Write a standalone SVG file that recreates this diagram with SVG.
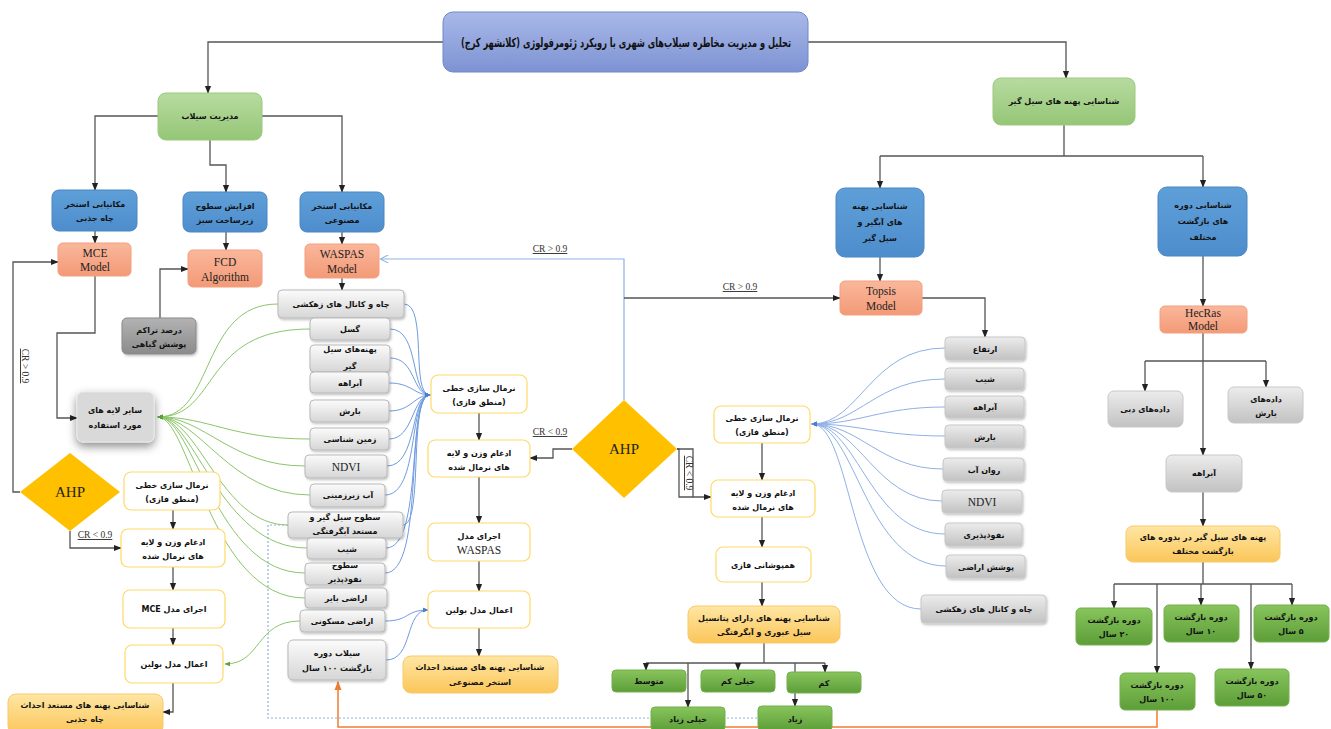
<svg xmlns="http://www.w3.org/2000/svg" width="1331" height="729" viewBox="0 0 1331 729">
<defs>
<linearGradient id="gTitle" x1="0" y1="0" x2="0" y2="1"><stop offset="0" stop-color="#a9b8e9"/><stop offset="1" stop-color="#7d93d2"/></linearGradient>
<linearGradient id="gGreen" x1="0" y1="0" x2="0" y2="1"><stop offset="0" stop-color="#b7dba0"/><stop offset="1" stop-color="#95c676"/></linearGradient>
<linearGradient id="gBlue" x1="0" y1="0" x2="0" y2="1"><stop offset="0" stop-color="#5f9fd8"/><stop offset="1" stop-color="#4d8dcd"/></linearGradient>
<linearGradient id="gOrange" x1="0" y1="0" x2="0" y2="1"><stop offset="0" stop-color="#fab79b"/><stop offset="1" stop-color="#f39a77"/></linearGradient>
<linearGradient id="gGray" x1="0" y1="0" x2="0" y2="1"><stop offset="0" stop-color="#fbfbfb"/><stop offset="1" stop-color="#d6d6d6"/></linearGradient>
<linearGradient id="gGrayR" x1="0" y1="0" x2="0" y2="1"><stop offset="0" stop-color="#ececec"/><stop offset="1" stop-color="#c2c2c2"/></linearGradient>
<linearGradient id="gDark" x1="0" y1="0" x2="0" y2="1"><stop offset="0" stop-color="#b3b3b3"/><stop offset="1" stop-color="#8b8b8b"/></linearGradient>
<linearGradient id="gRes" x1="0" y1="0" x2="0" y2="1"><stop offset="0" stop-color="#ffe6a3"/><stop offset="1" stop-color="#fbc65a"/></linearGradient>
<linearGradient id="gLeaf" x1="0" y1="0" x2="0" y2="1"><stop offset="0" stop-color="#88c45c"/><stop offset="1" stop-color="#5d9e39"/></linearGradient>
<filter id="sh" x="-20%" y="-20%" width="140%" height="150%"><feDropShadow dx="1" dy="1.5" stdDeviation="1" flood-color="#000" flood-opacity="0.25"/></filter>
<filter id="shBig" x="-40%" y="-40%" width="180%" height="190%"><feDropShadow dx="0" dy="4" stdDeviation="5" flood-color="#000" flood-opacity="0.45"/></filter>
<marker id="ar" viewBox="0 0 10 10" refX="9" refY="5" markerWidth="6" markerHeight="6" orient="auto-start-reverse"><path d="M0,1 L10,5 L0,9 z" fill="#222"/></marker>
<marker id="arB" viewBox="0 0 10 10" refX="9" refY="5" markerWidth="6" markerHeight="6" orient="auto"><path d="M0,1 L10,5 L0,9 z" fill="#4a7fd0"/></marker>
<marker id="arLB" viewBox="0 0 10 10" refX="9" refY="5" markerWidth="7" markerHeight="7" orient="auto"><path d="M0,0 L10,5 L0,10" fill="none" stroke="#8db3e2" stroke-width="1.2"/></marker>
<marker id="arG" viewBox="0 0 10 10" refX="9" refY="5" markerWidth="6" markerHeight="6" orient="auto"><path d="M0,1 L10,5 L0,9 z" fill="#5aa23a"/></marker>
<marker id="arO" viewBox="0 0 10 10" refX="9" refY="5" markerWidth="6" markerHeight="6" orient="auto"><path d="M0,1 L10,5 L0,9 z" fill="#ed7d31"/></marker>
</defs>
<style>
.fa{font-family:"DejaVu Sans",sans-serif;font-size:8px;font-weight:bold;fill:#111;text-anchor:middle;direction:rtl}
.fb{font-family:"DejaVu Sans",sans-serif;font-size:8.5px;font-weight:bold;fill:#111;text-anchor:middle;direction:rtl}
.en{font-family:"Liberation Serif",serif;font-size:11.5px;fill:#222;text-anchor:middle}
.ahp{font-family:"Liberation Serif",serif;font-size:15px;fill:#222;text-anchor:middle}
.cr{font-family:"Liberation Serif",serif;font-size:9.5px;fill:#333;text-anchor:middle;text-decoration:underline}
.title{fill:url(#gTitle);stroke:#7188c8;stroke-width:1}
.green{fill:url(#gGreen);stroke:#9cc97f;stroke-width:1}
.blue{fill:url(#gBlue);stroke:#4a86c3;stroke-width:1}
.orange{fill:url(#gOrange);stroke:#f2a07f;stroke-width:1}
.gray{fill:url(#gGray);stroke:#b9b9b9;stroke-width:1}
.grayR{fill:url(#gGrayR);stroke:#c8c8c8;stroke-width:1}
.dark{fill:url(#gDark);stroke:#8a8a8a;stroke-width:1}
.yel{fill:#fff;stroke:#ffd966;stroke-width:1.2}
.res{fill:url(#gRes);stroke:#f7c96a;stroke-width:1}
.leaf{fill:url(#gLeaf);stroke:#74b04d;stroke-width:1}
.dia{fill:#ffc000;stroke:none}
.ln{fill:none;stroke:#555;stroke-width:1.3}
.lnA{fill:none;stroke:#555;stroke-width:1.3;marker-end:url(#ar)}
.bc{fill:none;stroke:#6f9be0;stroke-width:1;marker-end:url(#arB)}
.rc{fill:none;stroke:#8fb0e6;stroke-width:1;marker-end:url(#arB)}
.gc{fill:none;stroke:#8cc56a;stroke-width:1;marker-end:url(#arG)}
</style>
<rect width="1331" height="729" fill="#fff"/>

<g id="connectors">
<path class="lnA" d="M443,42 H208 V93"/>
<path class="lnA" d="M808,42 H1066 V78"/>
<path class="lnA" d="M158,116 H95 V190"/>
<path class="lnA" d="M210,140 V165 H226 V192"/>
<path class="lnA" d="M262,116 H342 V192"/>
<path class="lnA" d="M95,231 V243"/>
<path class="lnA" d="M226,232 V250"/>
<path class="lnA" d="M342,232 V244"/>
<path class="lnA" d="M95,276 V333 H57 V418 H77"/>
<path class="lnA" d="M160,318 V269 H188"/>
<path class="lnA" d="M20,492 H13 V262 H58"/>
<text class="cr" x="22" y="366" transform="rotate(90 22 366)">CR &gt; 0.9</text>
<path class="lnA" d="M70,531 V548 H121"/>
<text class="cr" x="95" y="538">CR &lt; 0.9</text>
<path class="lnA" d="M173,510 V529"/>
<path class="lnA" d="M173,567 V590"/>
<path class="lnA" d="M173,628 V645"/>
<path class="lnA" d="M173,683 V712 H163"/>
<path class="lnA" d="M342,278 V290"/>
<path class="lnA" d="M479,413 V440"/>
<path class="lnA" d="M479,477 V523"/>
<path class="lnA" d="M479,561 V591"/>
<path class="lnA" d="M479,628 V656"/>
<path class="lnA" d="M572,449 H553 V458 H530"/>
<text class="cr" x="550" y="435">CR &lt; 0.9</text>
<path d="M624,400 V259 H381" fill="none" stroke="#8db3e2" stroke-width="1.2" marker-end="url(#arLB)"/>
<text class="cr" x="550" y="252">CR &gt; 0.9</text>
<path class="lnA" d="M624,298 H840"/>
<text class="cr" x="740" y="290">CR &gt; 0.9</text>
<path class="lnA" d="M677,449 H693 V497 H711"/>
<path class="ln" d="M677,449 H679 V497 H693" stroke="#999"/>
<text class="cr" x="686" y="473" transform="rotate(90 686 473)">CR &lt; 0.9</text>
<path class="lnA" d="M762,443 V480"/>
<path class="lnA" d="M762,517 V547"/>
<path class="lnA" d="M762,582 V606"/>
<path class="ln" d="M764,643 V663 M646,663 H825"/>
<path class="lnA" d="M646,663 V670"/>
<path class="lnA" d="M738,663 V670"/>
<path class="lnA" d="M825,663 V672"/>
<path class="lnA" d="M688,663 V707"/>
<path class="lnA" d="M795,663 V706"/>
<path class="lnA" d="M922,298 H985 V337"/>
<path class="ln" d="M1064,125 V156 M880,156 H1203"/>
<path class="lnA" d="M880,156 V188"/>
<path class="lnA" d="M1203,156 V187"/>
<path class="lnA" d="M880,257 V281"/>
<path class="lnA" d="M1203,256 V306"/>
<path class="lnA" d="M1203,333 V455"/>
<path class="ln" d="M1145,361 H1266"/>
<path class="lnA" d="M1145,361 V391"/>
<path class="lnA" d="M1266,361 V387"/>
<path class="lnA" d="M1203,492 V526"/>
<path class="ln" d="M1203,562 V584 M1114,584 H1292"/>
<path class="lnA" d="M1114,584 V608"/>
<path class="lnA" d="M1201,584 V605"/>
<path class="lnA" d="M1292,584 V605"/>
<path class="lnA" d="M1157,584 V673"/>
<path class="lnA" d="M1251,584 V669"/>
<path d="M1157,710 V727 H338 V682" fill="none" stroke="#ed7d31" stroke-width="1.5" marker-end="url(#arO)"/>
<path d="M288,525 H268 V718 H758" fill="none" stroke="#8db3e2" stroke-width="1.2" stroke-dasharray="2,2"/>
<path class="bc" d="M404,304 C428,304 410,395 430,395"/>
<path class="bc" d="M390,329 C420,329 410,395 430,395"/>
<path class="bc" d="M390,358 C416,358 412,395 430,395"/>
<path class="bc" d="M389,383 C412,383 414,395 430,395"/>
<path class="bc" d="M389,411 C412,411 414,395 430,395"/>
<path class="bc" d="M389,439 C414,439 412,395 430,395"/>
<path class="bc" d="M387,466 C418,466 410,395 430,395"/>
<path class="bc" d="M385,495 C420,495 408,395 430,395"/>
<path class="bc" d="M403,525 C424,525 408,395 430,395"/>
<path class="bc" d="M386,548 C424,548 406,395 430,395"/>
<path class="bc" d="M385,573 C426,573 404,395 430,395"/>
<path class="bc" d="M385,621 C410,621 405,610 428,610"/>
<path class="bc" d="M386,660 C414,660 404,610 428,610"/>
<path class="gc" d="M278,304 C200,304 215,417 158,417"/>
<path class="gc" d="M310,329 C200,329 220,417 158,417"/>
<path class="gc" d="M310,439 C230,439 210,417 158,417"/>
<path class="gc" d="M305,466 C230,466 205,417 158,417"/>
<path class="gc" d="M310,495 C230,495 200,417 158,417"/>
<path class="gc" d="M288,525 C220,525 200,417 158,417"/>
<path class="gc" d="M307,548 C220,548 195,417 158,417"/>
<path class="gc" d="M305,573 C215,573 195,417 158,417"/>
<path class="gc" d="M305,598 C210,598 190,417 158,417"/>
<path class="gc" d="M300,621 C255,621 262,664 225,664"/>
<path class="rc" d="M945,348 C870,348 860,424 812,424"/>
<path class="rc" d="M945,379 C875,379 860,424 812,424"/>
<path class="rc" d="M945,407 C880,407 860,424 812,424"/>
<path class="rc" d="M945,436 C880,436 860,424 812,424"/>
<path class="rc" d="M943,469 C880,469 860,424 812,424"/>
<path class="rc" d="M942,501 C875,501 860,424 812,424"/>
<path class="rc" d="M945,534 C870,534 858,424 812,424"/>
<path class="rc" d="M946,566 C865,566 856,424 812,424"/>
<path class="rc" d="M921,609 C850,609 852,424 812,424"/>
</g>

<g id="title"><rect class="title" x="443" y="12" width="365" height="60" rx="10"/><text class="fb" x="626" y="47" style="font-size:12.5px" textLength="330" lengthAdjust="spacingAndGlyphs">تحلیل و مدیریت مخاطره سیلاب‌های شهری با رویکرد ژئومرفولوژی (کلانشهر کرج)</text></g>

<g id="flood-management"><rect class="green" x="158" y="93" width="104" height="47" rx="8"/><text class="fa" x="210" y="119">مدیریت سیلاب</text></g>
<g id="flood-zones"><rect class="green" x="993" y="78" width="142" height="47" rx="8"/><text class="fa" x="1064" y="104">شناسایی پهنه های سیل گیر</text></g>

<g id="b-well"><rect class="blue" x="52" y="190" width="85" height="41" rx="7"/><text class="fa" x="95" y="207">مکانیابی استخر</text><text class="fa" x="95" y="221">چاه جذبی</text></g>
<g id="b-green"><rect class="blue" x="183" y="192" width="84" height="40" rx="7"/><text class="fa" x="225" y="209">افزایش سطوح</text><text class="fa" x="225" y="223">زیرساخت سبز</text></g>
<g id="b-pool"><rect class="blue" x="300" y="192" width="84" height="40" rx="7"/><text class="fa" x="342" y="209">مکانیابی استخر</text><text class="fa" x="342" y="223">مصنوعی</text></g>
<g id="b-zones"><rect class="blue" x="836" y="188" width="88" height="69" rx="9"/><text class="fa" x="880" y="209">شناسایی پهنه</text><text class="fa" x="880" y="225">های آبگیر و</text><text class="fa" x="880" y="241">سیل گیر</text></g>
<g id="b-periods"><rect class="blue" x="1158" y="187" width="89" height="69" rx="9"/><text class="fa" x="1203" y="208">شناسایی دوره</text><text class="fa" x="1203" y="224">های بازگشت</text><text class="fa" x="1203" y="240">مختلف</text></g>

<g id="m-mce"><rect class="orange" x="58" y="243" width="73" height="33" rx="5"/><text class="en" x="95" y="257">MCE</text><text class="en" x="95" y="271">Model</text></g>
<g id="m-fcd"><rect class="orange" x="188" y="250" width="74" height="37" rx="5"/><text class="en" x="225" y="266">FCD</text><text class="en" x="225" y="281">Algorithm</text></g>
<g id="m-waspas"><rect class="orange" x="305" y="244" width="74" height="34" rx="5"/><text class="en" x="342" y="258">WASPAS</text><text class="en" x="342" y="273">Model</text></g>
<g id="m-topsis"><rect class="orange" x="840" y="281" width="82" height="34" rx="5"/><text class="en" x="881" y="295">Topsis</text><text class="en" x="881" y="310">Model</text></g>
<g id="m-hecras"><rect class="orange" x="1160" y="306" width="87" height="27" rx="5"/><text class="en" x="1203" y="317">HecRas</text><text class="en" x="1203" y="330">Model</text></g>

<g id="veg"><rect class="dark" x="122" y="318" width="74" height="36" rx="5" filter="url(#sh)"/><text class="fa" x="159" y="333">درصد تراکم</text><text class="fa" x="159" y="347">پوشش گیاهی</text></g>
<g id="other-layers"><rect x="77" y="392" width="77" height="50" rx="6" fill="#d9d9d9" stroke="#e8e8e8" filter="url(#shBig)"/><text class="fa" x="115" y="413">سایر لایه های</text><text class="fa" x="115" y="428">مورد استفاده</text></g>

<g id="ahp-left"><polygon class="dia" points="20,492 70,453 120,492 70,531"/><text class="ahp" x="70" y="497">AHP</text></g>
<g id="ahp-mid"><polygon class="dia" points="572,449 624,400 677,449 624,498"/><text class="ahp" x="624" y="454">AHP</text></g>

<g id="l-norm"><rect class="yel" x="124" y="472" width="96" height="38" rx="7"/><text class="fa" x="172" y="488">نرمال سازی خطی</text><text class="fa" x="172" y="502">(منطق فازی)</text></g>
<g id="l-merge"><rect class="yel" x="121" y="529" width="104" height="38" rx="7"/><text class="fa" x="173" y="545">ادغام وزن و لایه</text><text class="fa" x="173" y="559">های نرمال شده</text></g>
<g id="l-run"><rect class="yel" x="123" y="590" width="102" height="38" rx="7"/><text class="fa" x="174" y="612">اجرای مدل MCE</text></g>
<g id="l-bool"><rect class="yel" x="125" y="645" width="98" height="38" rx="7"/><text class="fa" x="174" y="667">اعمال مدل بولین</text></g>
<g id="l-res"><rect class="res" x="8" y="694" width="155" height="40" rx="8"/><text class="fa" x="85" y="708">شناسایی پهنه های مستعد احداث</text><text class="fa" x="85" y="722">چاه جذبی</text></g>

<g id="c1"><rect class="gray" x="278" y="290" width="126" height="28" rx="4" filter="url(#sh)"/><text class="fa" x="341" y="307">چاه و کانال های زهکشی</text></g>
<g id="c2"><rect class="gray" x="310" y="318" width="80" height="22" rx="4" filter="url(#sh)"/><text class="fa" x="350" y="332">گسل</text></g>
<g id="c3"><rect class="gray" x="310" y="345" width="80" height="27" rx="4" filter="url(#sh)"/><text class="fa" x="350" y="352">پهنه‌های سیل</text><text class="fa" x="350" y="369">گیر</text></g>
<g id="c4"><rect class="gray" x="310" y="372" width="79" height="21" rx="4" filter="url(#sh)"/><text class="fa" x="350" y="386">آبراهه</text></g>
<g id="c5"><rect class="gray" x="310" y="400" width="79" height="22" rx="4" filter="url(#sh)"/><text class="fa" x="350" y="414">بارش</text></g>
<g id="c6"><rect class="gray" x="310" y="428" width="79" height="22" rx="4" filter="url(#sh)"/><text class="fa" x="350" y="442">زمین شناسی</text></g>
<g id="c7"><rect class="gray" x="305" y="455" width="82" height="23" rx="4" filter="url(#sh)"/><text class="en" x="346" y="471">NDVI</text></g>
<g id="c8"><rect class="gray" x="310" y="484" width="75" height="23" rx="4" filter="url(#sh)"/><text class="fa" x="348" y="498">آب زیرزمینی</text></g>
<g id="c9"><rect class="gray" x="288" y="512" width="115" height="26" rx="4" filter="url(#sh)"/><text class="fa" x="345" y="520">سطوح سیل گیر و</text><text class="fa" x="345" y="534">مستعد آبگرفتگی</text></g>
<g id="c10"><rect class="gray" x="307" y="538" width="79" height="21" rx="4" filter="url(#sh)"/><text class="fa" x="347" y="552">شیب</text></g>
<g id="c11"><rect class="gray" x="305" y="563" width="80" height="22" rx="4" filter="url(#sh)"/><text class="fa" x="345" y="568">سطوح</text><text class="fa" x="345" y="582">نفوذپذیر</text></g>
<g id="c12"><rect class="gray" x="305" y="588" width="82" height="20" rx="4" filter="url(#sh)"/><text class="fa" x="346" y="601">اراضی بایر</text></g>
<g id="c13"><rect class="gray" x="300" y="610" width="85" height="22" rx="4" filter="url(#sh)"/><text class="fa" x="342" y="624">اراضی مسکونی</text></g>
<g id="c14"><rect class="gray" x="288" y="640" width="98" height="40" rx="5" filter="url(#sh)"/><text class="fa" x="337" y="656">سیلاب دوره</text><text class="fa" x="337" y="671">بازگشت ۱۰۰ سال</text></g>

<g id="m-norm"><rect class="yel" x="431" y="375" width="96" height="38" rx="7"/><text class="fa" x="479" y="391">نرمال سازی خطی</text><text class="fa" x="479" y="405">(منطق فازی)</text></g>
<g id="m-merge"><rect class="yel" x="428" y="440" width="102" height="37" rx="7"/><text class="fa" x="479" y="456">ادغام وزن و لایه</text><text class="fa" x="479" y="470">های نرمال شده</text></g>
<g id="m-run"><rect class="yel" x="428" y="523" width="102" height="38" rx="7"/><text class="fa" x="479" y="539">اجرای مدل</text><text class="en" x="479" y="554">WASPAS</text></g>
<g id="m-bool"><rect class="yel" x="428" y="591" width="102" height="37" rx="7"/><text class="fa" x="479" y="613">اعمال مدل بولین</text></g>
<g id="m-res"><rect class="res" x="403" y="656" width="155" height="37" rx="8"/><text class="fa" x="480" y="670">شناسایی پهنه های مستعد احداث</text><text class="fa" x="480" y="685">استخر مصنوعی</text></g>

<g id="r-norm"><rect class="yel" x="714" y="406" width="96" height="37" rx="7"/><text class="fa" x="762" y="421">نرمال سازی خطی</text><text class="fa" x="762" y="435">(منطق فازی)</text></g>
<g id="r-merge"><rect class="yel" x="711" y="480" width="104" height="37" rx="7"/><text class="fa" x="763" y="496">ادغام وزن و لایه</text><text class="fa" x="763" y="510">های نرمال شده</text></g>
<g id="r-overlay"><rect class="yel" x="716" y="547" width="95" height="35" rx="7"/><text class="fa" x="763" y="568">همپوشانی فازی</text></g>
<g id="r-res"><rect class="res" x="688" y="606" width="152" height="37" rx="8"/><text class="fa" x="764" y="621">شناسایی پهنه های دارای پتانسیل</text><text class="fa" x="764" y="635">سیل عبوری و آبگرفتگی</text></g>

<g id="k-mid"><rect class="leaf" x="612" y="670" width="74" height="22" rx="4"/><text class="fa" x="649" y="684">متوسط</text></g>
<g id="k-vlow"><rect class="leaf" x="701" y="670" width="74" height="22" rx="4"/><text class="fa" x="738" y="684">خیلی کم</text></g>
<g id="k-low"><rect class="leaf" x="787" y="672" width="74" height="21" rx="4"/><text class="fa" x="824" y="686">کم</text></g>
<g id="k-vhigh"><rect class="leaf" x="651" y="707" width="74" height="24" rx="4"/><text class="fa" x="688" y="722">خیلی زیاد</text></g>
<g id="k-high"><rect class="leaf" x="758" y="706" width="74" height="25" rx="4"/><text class="fa" x="795" y="722">زیاد</text></g>

<g id="t1"><rect class="grayR" x="945" y="337" width="80" height="23" rx="4" filter="url(#sh)"/><text class="fa" x="985" y="352">ارتفاع</text></g>
<g id="t2"><rect class="grayR" x="945" y="368" width="79" height="22" rx="4" filter="url(#sh)"/><text class="fa" x="985" y="382">شیب</text></g>
<g id="t3"><rect class="grayR" x="945" y="396" width="79" height="22" rx="4" filter="url(#sh)"/><text class="fa" x="985" y="410">آبراهه</text></g>
<g id="t4"><rect class="grayR" x="945" y="425" width="79" height="23" rx="4" filter="url(#sh)"/><text class="fa" x="985" y="440">بارش</text></g>
<g id="t5"><rect class="grayR" x="943" y="458" width="81" height="23" rx="4" filter="url(#sh)"/><text class="fa" x="984" y="473">روان آب</text></g>
<g id="t6"><rect class="grayR" x="942" y="490" width="80" height="23" rx="4" filter="url(#sh)"/><text class="en" x="982" y="506">NDVI</text></g>
<g id="t7"><rect class="grayR" x="945" y="523" width="77" height="23" rx="4" filter="url(#sh)"/><text class="fa" x="984" y="538">نفوذپذیری</text></g>
<g id="t8"><rect class="grayR" x="946" y="555" width="79" height="23" rx="4" filter="url(#sh)"/><text class="fa" x="986" y="570">پوشش اراضی</text></g>
<g id="t9"><rect class="grayR" x="921" y="595" width="125" height="28" rx="4" filter="url(#sh)"/><text class="fa" x="984" y="612">چاه و کانال های زهکشی</text></g>

<g id="d-flow"><rect class="grayR" x="1108" y="391" width="75" height="36" rx="6"/><text class="fa" x="1145" y="412">داده‌های دبی</text></g>
<g id="d-rain"><rect class="grayR" x="1228" y="387" width="75" height="36" rx="6"/><text class="fa" x="1266" y="402">داده‌های</text><text class="fa" x="1266" y="416">بارش</text></g>
<g id="d-stream"><rect class="grayR" x="1166" y="455" width="76" height="37" rx="6"/><text class="fa" x="1204" y="476">آبراهه</text></g>
<g id="d-res"><rect class="res" x="1126" y="526" width="154" height="36" rx="7"/><text class="fa" x="1203" y="540">پهنه های سیل گیر در بدوره های</text><text class="fa" x="1203" y="554">بازگشت مختلف</text></g>

<g id="p20"><rect class="leaf" x="1076" y="608" width="76" height="37" rx="5"/><text class="fa" x="1114" y="623">دوره بازگشت</text><text class="fa" x="1114" y="637">۲۰ سال</text></g>
<g id="p10"><rect class="leaf" x="1164" y="605" width="75" height="37" rx="5"/><text class="fa" x="1201" y="620">دوره بازگشت</text><text class="fa" x="1201" y="634">۱۰ سال</text></g>
<g id="p5"><rect class="leaf" x="1254" y="605" width="75" height="37" rx="5"/><text class="fa" x="1291" y="620">دوره بازگشت</text><text class="fa" x="1291" y="634">۵ سال</text></g>
<g id="p100"><rect class="leaf" x="1120" y="673" width="75" height="37" rx="5"/><text class="fa" x="1157" y="688">دوره بازگشت</text><text class="fa" x="1157" y="702">۱۰۰ سال</text></g>
<g id="p50"><rect class="leaf" x="1215" y="669" width="74" height="37" rx="5"/><text class="fa" x="1252" y="684">دوره بازگشت</text><text class="fa" x="1252" y="698">۵۰ سال</text></g>
</svg>
